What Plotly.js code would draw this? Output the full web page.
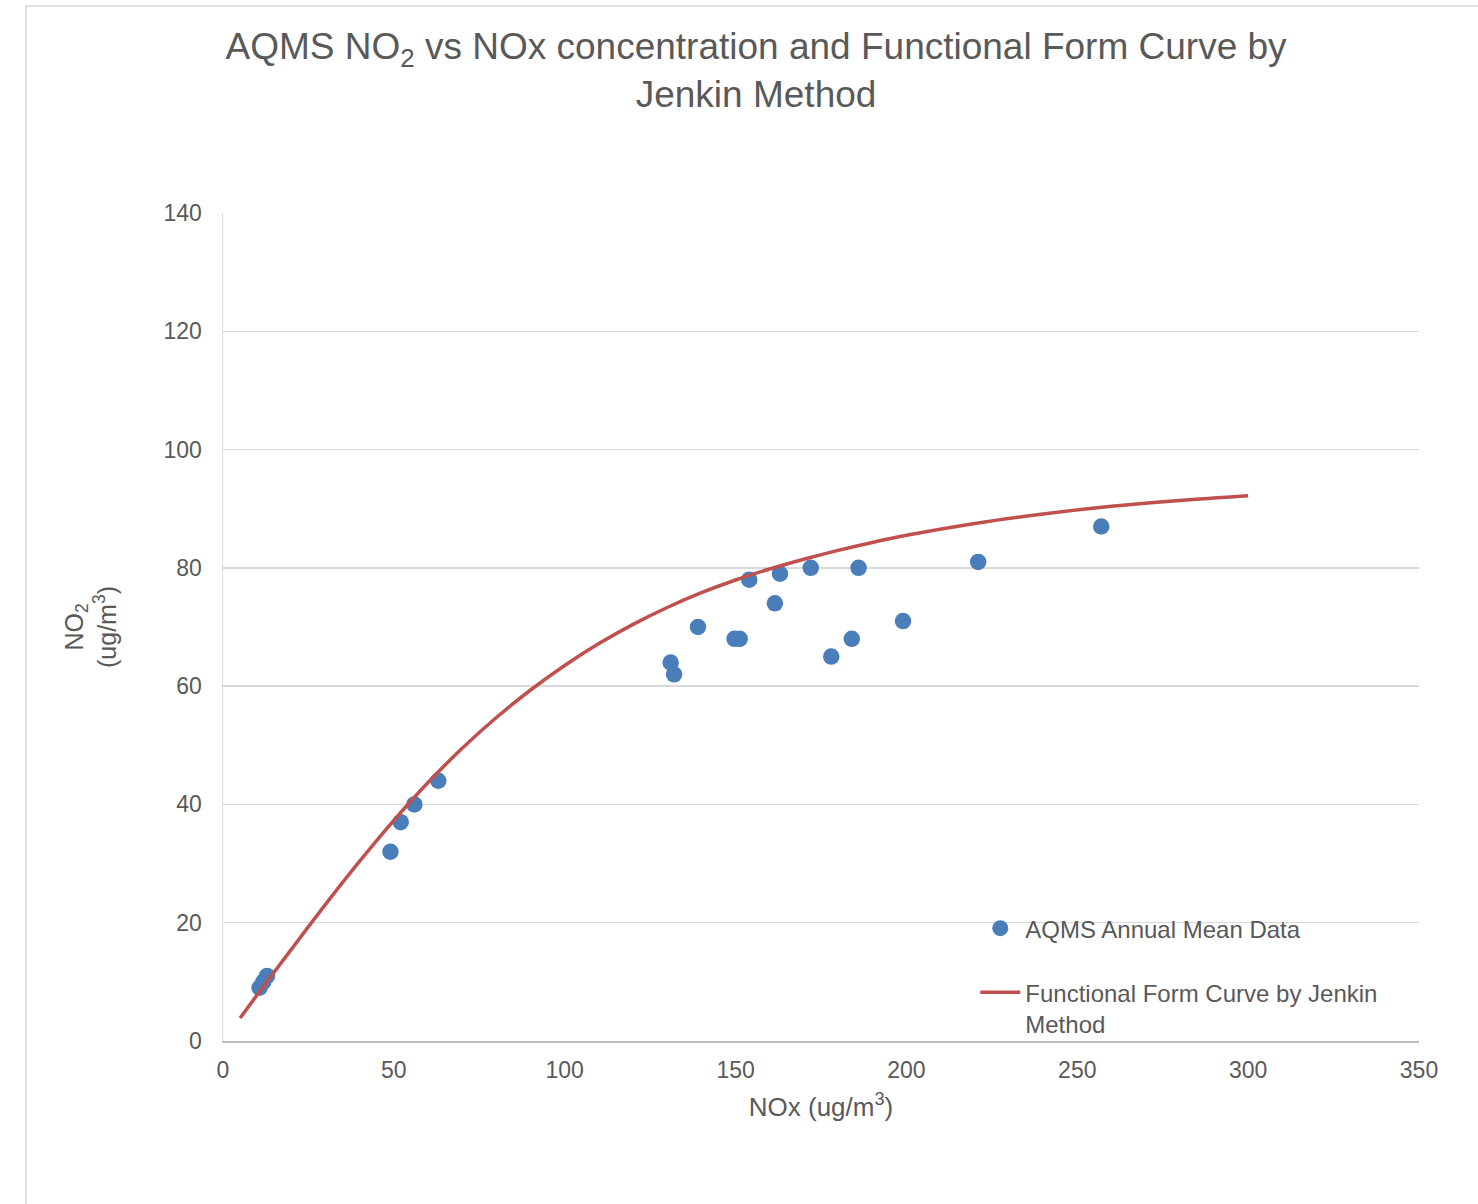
<!DOCTYPE html>
<html>
<head>
<meta charset="utf-8">
<script src="https://cdn.plot.ly/plotly-3.0.1.min.js"></script>
<style>
html, body { margin: 0; padding: 0; background: #ffffff; }
#chart { width: 1478px; height: 1204px; }
</style>
</head>
<body>
<div id="chart"></div>
<script>
// AQMS annual mean data
const aqmsNOx = [10.7, 11.8, 12.9, 49, 52, 56, 63, 131, 132, 139, 149.7, 151.2, 154, 161.5, 163, 172, 178, 184, 186, 199, 221, 257];
const aqmsNO2 = [9, 10, 11, 32, 37, 40, 44, 64, 62, 70, 68, 68, 78, 74, 79, 80, 65, 68, 80, 71, 81, 87];

// Functional form curve by Jenkin method
const curveNOx = [5, 10, 20, 30, 40, 50, 60, 70, 80, 90, 100, 110, 120, 130, 140, 150, 160, 170, 180, 190, 200, 220, 240, 260, 280, 300];
const curveNO2 = [3.9, 7.8, 15.5, 23.1, 30.4, 37.3, 43.7, 49.5, 54.7, 59.35, 63.5, 67.2, 70.45, 73.3, 75.8, 77.95, 79.8, 81.45, 82.95, 84.3, 85.5, 87.5, 89.1, 90.4, 91.4, 92.2];

const xTicks = [0, 50, 100, 150, 200, 250, 300, 350];
const yTicks = [0, 20, 40, 60, 80, 100, 120, 140];

const FONT = '"Liberation Sans", Arial, sans-serif';
const TXT = '#595959';

const traces = [
  {
    type: 'scatter', mode: 'markers',
    x: aqmsNOx, y: aqmsNO2,
    name: 'AQMS Annual Mean Data',
    legendgroup: 'a',
    marker: { color: '#4a7ebb', size: 16.5, line: { width: 0 } }
  },
  {
    type: 'scatter', mode: 'lines',
    x: curveNOx, y: curveNO2,
    name: 'Functional Form Curve by Jenkin<br>Method',
    legendgroup: 'b',
    line: { color: '#c0504d', width: 3.5, shape: 'spline' }
  }
];

const layout = {
  width: 1478, height: 1204,
  margin: { l: 223, r: 59, t: 213, b: 163 },
  paper_bgcolor: '#ffffff', plot_bgcolor: '#ffffff',
  font: { family: FONT, color: TXT },
  title: {
    text: 'AQMS NO<sub>2</sub> vs NOx concentration and Functional Form Curve by<br>Jenkin Method',
    font: { family: FONT, size: 37, color: TXT },
    x: 0.4457, xref: 'paper', xanchor: 'center',
    y: 0.951, yref: 'container', yanchor: 'top'
  },
  xaxis: {
    range: [0, 350], tickvals: xTicks, ticktext: xTicks.map(String),
    showgrid: false, zeroline: false,
    showline: true, linecolor: '#bfbfbf', linewidth: 1.5,
    ticks: '', ticklabelstandoff: 8,
    tickfont: { family: FONT, size: 23, color: TXT },
    title: { text: 'NOx (ug/m<sup>3</sup>)', font: { family: FONT, size: 26, color: TXT }, standoff: 15 }
  },
  yaxis: {
    range: [0, 140], tickvals: yTicks, ticktext: yTicks.map(String),
    showgrid: true, gridcolor: '#d9d9d9', gridwidth: 1.5,
    zeroline: false,
    showline: true, linecolor: '#d9d9d9', linewidth: 1.5,
    ticks: '', ticklabelstandoff: 15,
    tickfont: { family: FONT, size: 23, color: TXT },
    title: { text: 'NO<sub>2</sub><br>(ug/m<sup>3</sup>)', font: { family: FONT, size: 25, color: TXT }, standoff: 40 }
  },
  legend: {
    x: 0.629, xanchor: 'left', y: 0.163, yanchor: 'top',
    bgcolor: 'rgba(0,0,0,0)',
    font: { family: FONT, size: 24, color: TXT },
    tracegroupgap: 30, itemwidth: 40, valign: 'top'
  },
  shapes: [
    {
      type: 'rect', xref: 'paper', yref: 'paper',
      x0: -0.1647, x1: 1.2, y0: -0.5, y1: 1.25,
      line: { color: '#d9d9d9', width: 1.5 }, fillcolor: 'rgba(0,0,0,0)', layer: 'below'
    }
  ],
  showlegend: true
};

Plotly.newPlot('chart', traces, layout, { displayModeBar: false, staticPlot: true });
</script>
</body>
</html>
